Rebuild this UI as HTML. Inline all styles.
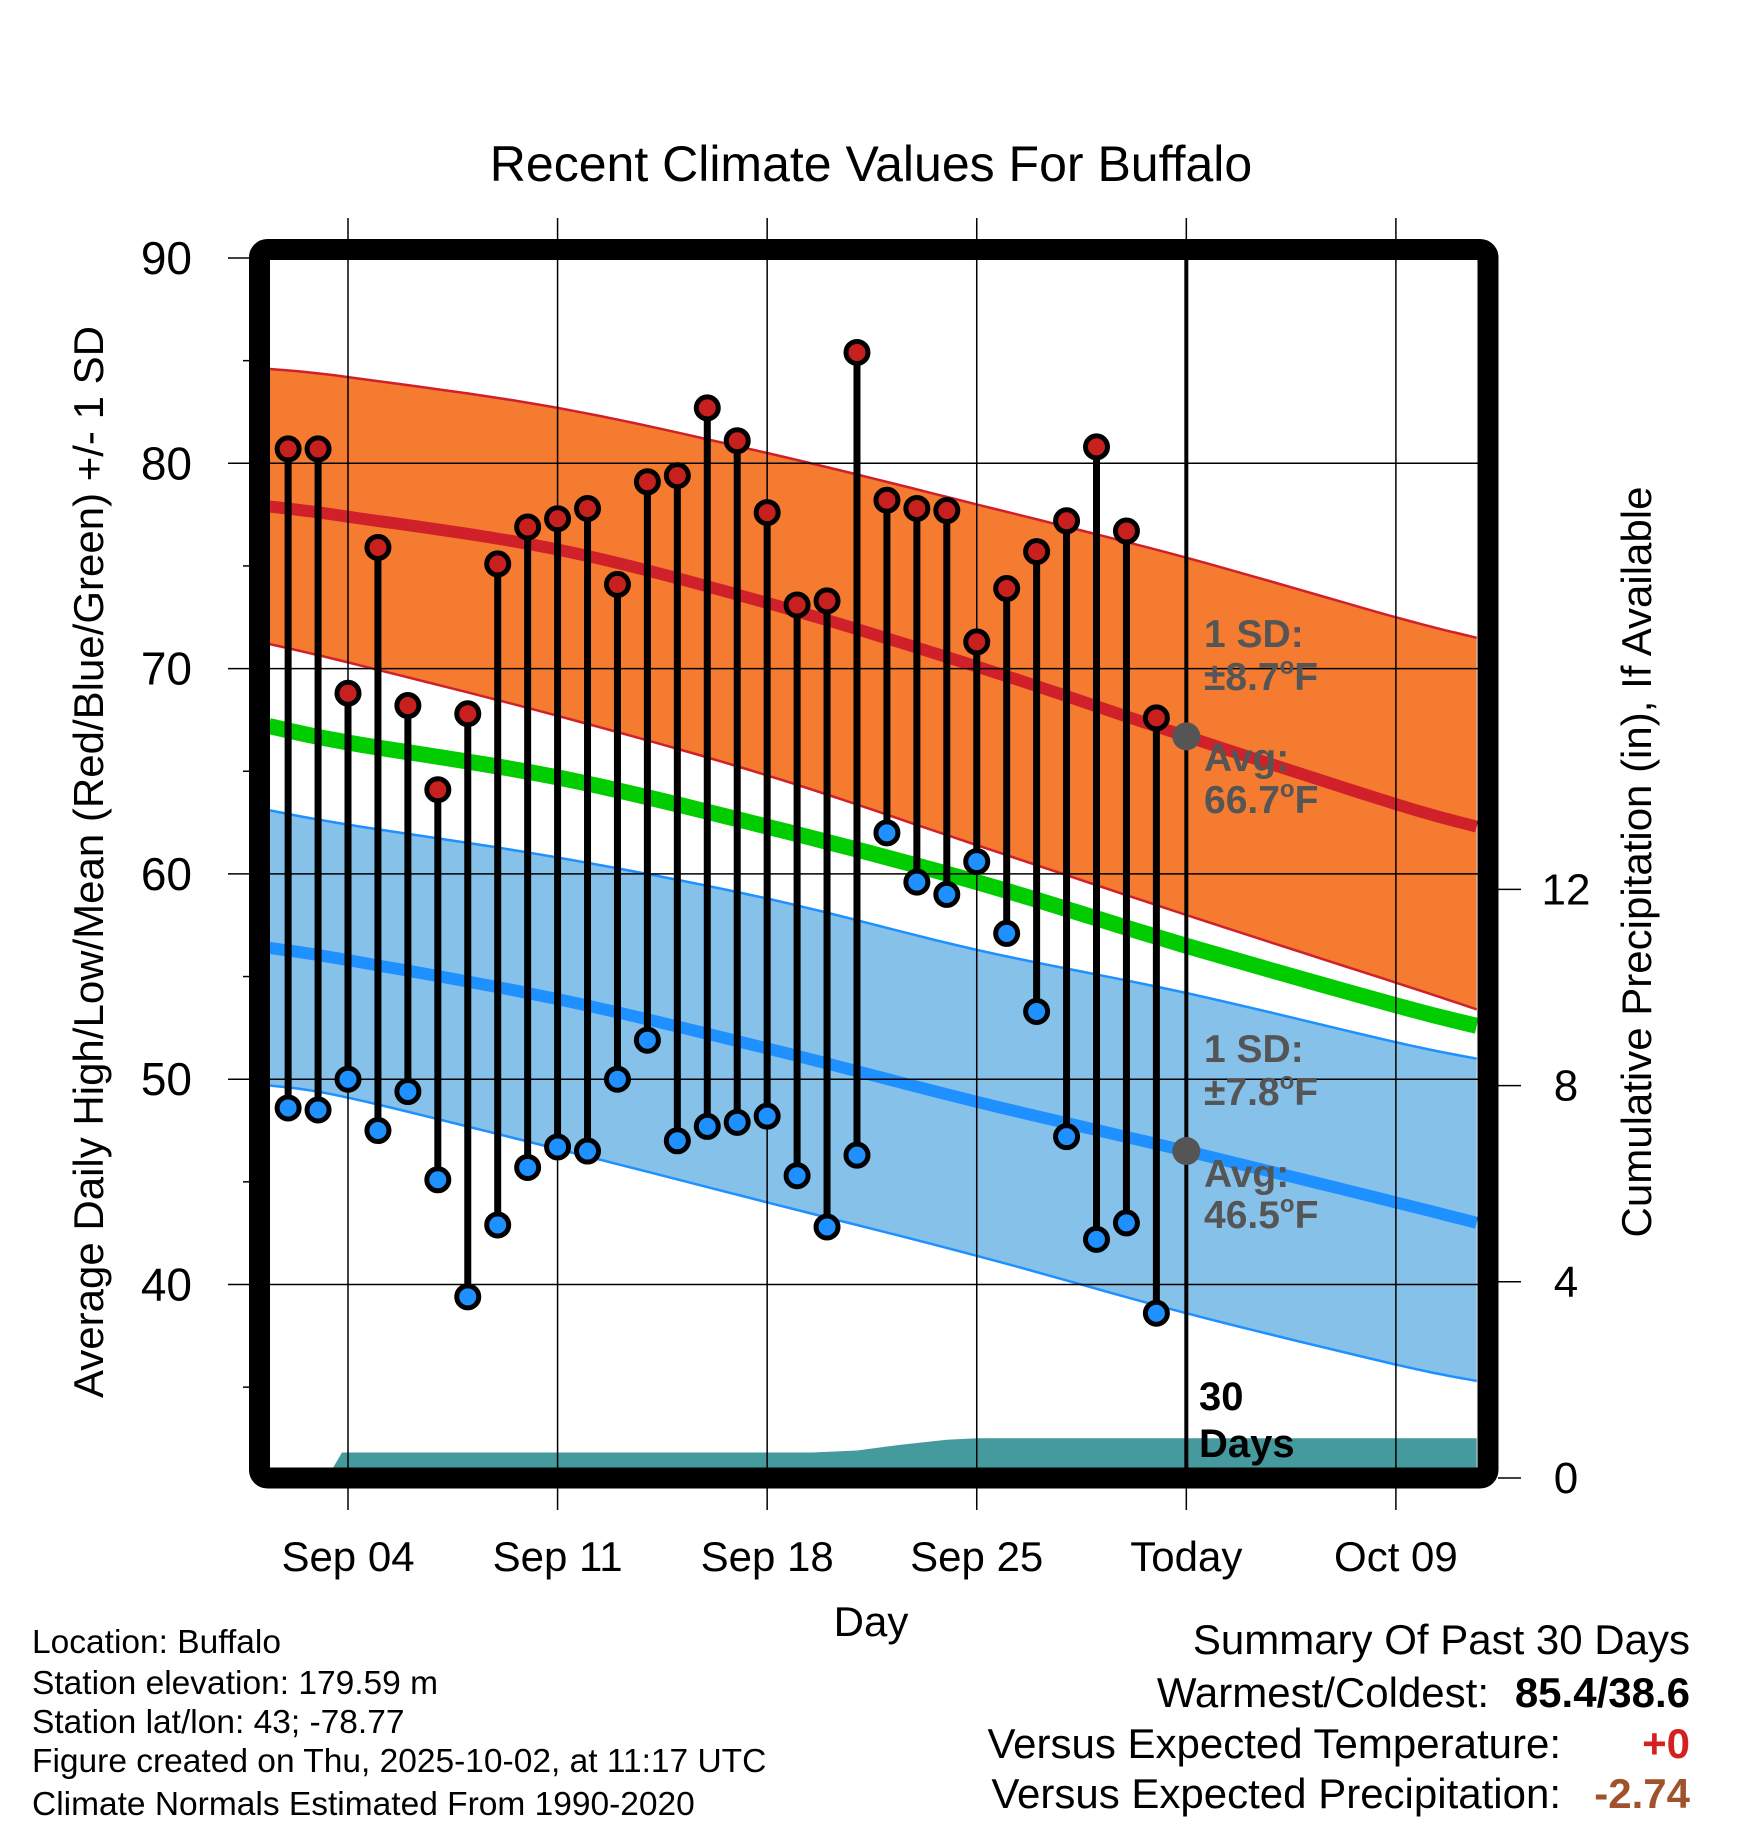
<!DOCTYPE html>
<html><head><meta charset="utf-8"><style>
html,body{margin:0;padding:0;background:#fff}
svg{display:block;font-family:"Liberation Sans",sans-serif}
</style></head><body>
<svg id="chart" width="1748" height="1828" viewBox="0 0 1748 1828">
<text x="871" y="181" font-size="50" text-anchor="middle">Recent Climate Values For Buffalo</text>
<g id="plot"></g>
</svg>
<script>
// ---- data ----
const obsDays = [2,3,4,5,6,7,8,9,10,11,12,13,14,15,16,17,18,19,20,21,22,23,24,25,26,27,28,29,30,31];
const highs = [80.7,80.7,68.8,75.9,68.2,64.1,67.8,75.1,76.9,77.3,77.8,74.1,79.1,79.4,82.7,81.1,77.6,73.1,73.3,85.4,78.2,77.8,77.7,71.3,73.9,75.7,77.2,80.8,76.7,67.6];
const lows = [48.6,48.5,50.0,47.5,49.4,45.1,39.4,42.9,45.7,46.7,46.5,50.0,51.9,47.0,47.7,47.9,48.2,45.3,42.8,46.3,62.0,59.6,59.0,60.6,57.1,53.3,47.2,42.2,43.0,38.6];
const normDays = [1.36,4,11,18,25,32,39,41.7];
const highAvg = [77.9,77.4,75.8,73.2,70.1,66.7,63.4,62.3];
const highUp = [84.6,84.2,82.7,80.5,78.0,75.4,72.5,71.5];
const highLo = [71.2,70.3,67.7,64.8,61.4,58.0,54.7,53.4];
const meanAvg = [67.2,66.4,64.7,62.3,59.6,56.5,53.6,52.6];
const lowUp = [63.1,62.4,60.8,58.8,56.3,54.2,51.8,51.0];
const lowAvg = [56.4,55.8,53.9,51.5,48.9,46.5,44.0,43.0];
const lowLo = [49.7,49.1,46.6,44.0,41.4,38.6,36.1,35.3];
const precipDays = [1.36,3.3,3.8,19.5,21,22.5,24,25,41.7];
const precipVals = [0,0,0.52,0.52,0.56,0.68,0.78,0.81,0.81];
const tempTicks = [40,50,60,70,80,90];
const precipTicks = [0,4,8,12];
const xTickDays = [4,11,18,25,32,39];
const xTickLabels = ["Sep 04","Sep 11","Sep 18","Sep 25","Today","Oct 09"];
const todayDay = 32;

// ---- axes ----
const X = d => 348 + (d - 4) * 29.94;
const Y = t => 258 + (90 - t) * 20.53;
const P = p => 1478 - p * 49.05;
const L = 270, R = 1478, T = 260, B = 1468;
const NS = "http://www.w3.org/2000/svg";
const g = document.getElementById('plot');
function el(tag, attrs, parent){const e=document.createElementNS(NS,tag);for(const k in attrs)e.setAttribute(k,attrs[k]);(parent||g).appendChild(e);return e;}
function smooth(xs, ys){
  const pts=[];
  for(let i=0;i<xs.length-1;i++){
    const x0=xs[Math.max(i-1,0)],x1=xs[i],x2=xs[i+1],x3=xs[Math.min(i+2,xs.length-1)];
    const y0=ys[Math.max(i-1,0)],y1=ys[i],y2=ys[i+1],y3=ys[Math.min(i+2,ys.length-1)];
    for(let s=0;s<10;s++){const t=s/10,t2=t*t,t3=t2*t;
      const f=(a,b,c,d)=>0.5*((2*b)+(-a+c)*t+(2*a-5*b+4*c-d)*t2+(-a+3*b-3*c+d)*t3);
      pts.push([f(x0,x1,x2,x3),f(y0,y1,y2,y3)]);}
  }
  pts.push([xs[xs.length-1],ys[ys.length-1]]);
  return pts;
}
const curve = vals => smooth(normDays.map(X), vals.map(Y));
const pstr = pts => pts.map(p=>p[0].toFixed(1)+','+p[1].toFixed(1)).join(' ');

const defs = el('defs',{});
const cp = el('clipPath',{id:'clip'},defs); el('rect',{x:L,y:T,width:R-L,height:B-T},cp);
const clipG = el('g',{'clip-path':'url(#clip)'});

function band(up, lo, fill, edge, name){
  const a=curve(up), b=curve(lo).reverse();
  const p = el('polygon',{points:pstr(a.concat(b)),fill:fill},clipG);
  
  
  const e1 = el('polyline',{points:pstr(a),fill:'none',stroke:edge,'stroke-width':2.5},clipG);
  
  
  const e2 = el('polyline',{points:pstr(curve(lo)),fill:'none',stroke:edge,'stroke-width':2.5},clipG);
  
  
}
band(lowUp, lowLo, '#85c1e9', '#1e90ff', 'low-sd-band');
band(highUp, highLo, '#f47b30', '#d0202a', 'high-sd-band');
function line(vals, color, w, name){
  const l = el('polyline',{points:pstr(curve(vals)),fill:'none',stroke:color,'stroke-width':w},clipG);
  
  
}
line(meanAvg,'#00cc00',16,'mean-normal-line');
line(highAvg,'#d0202a',12,'high-normal-line');
line(lowAvg,'#1e90ff',12,'low-normal-line');

{
  const pts = precipDays.map((d,i)=>[X(d),P(precipVals[i])]);
  const poly = pts.concat([[X(precipDays[precipDays.length-1]),P(0)+5],[X(precipDays[0]),P(0)+5]]);
  const a = el('polygon',{points:pstr(poly),fill:'#459a9e'},clipG);
  
  
}

tempTicks.forEach(t=>{
  const l = el('line',{x1:228,x2:R,y1:Y(t),y2:Y(t),stroke:'#000','stroke-width':1.5});
  
  
  const tx = el('text',{x:192,y:Y(t)+16,'font-size':46,'text-anchor':'end'});
  tx.textContent = t;
  
  
});
for(let t=35;t<90;t+=10){
  const m = el('line',{x1:243,x2:252,y1:Y(t),y2:Y(t),stroke:'#000','stroke-width':1.5});
  
  
}
xTickDays.forEach((d,i)=>{
  const l = el('line',{x1:X(d),x2:X(d),y1:218,y2:1510,stroke:'#000','stroke-width':1.5});
  
  
  const tx = el('text',{x:X(d),y:1571,'font-size':42,'text-anchor':'middle'});
  tx.textContent = xTickLabels[i];
  
  
});
precipTicks.forEach(p=>{
  const l = el('line',{x1:1498,x2:1521,y1:P(p),y2:P(p),stroke:'#000','stroke-width':1.5});
  
  
  const tx = el('text',{x:1566,y:P(p)+15,'font-size':44,'text-anchor':'middle'});
  tx.textContent = p;
  
  
});

{
  const l = el('line',{x1:X(todayDay),x2:X(todayDay),y1:T,y2:B,stroke:'#000','stroke-width':4});
  
  
}

obsDays.forEach((d,i)=>{
  const s = el('line',{x1:X(d),x2:X(d),y1:Y(highs[i]),y2:Y(lows[i]),stroke:'#000','stroke-width':7});
  
  
});
obsDays.forEach((d,i)=>{
  const h = el('circle',{cx:X(d),cy:Y(highs[i]),r:11,fill:'#c8201e',stroke:'#000','stroke-width':5});
  
  
  const lo = el('circle',{cx:X(d),cy:Y(lows[i]),r:11,fill:'#1e90ff',stroke:'#000','stroke-width':5});
  
  
});
[66.7,46.5].forEach(v=>{
  const c = el('circle',{cx:X(todayDay),cy:Y(v),r:14,fill:'#555'});
  
  
});

{
  const f = el('rect',{x:259.5,y:249.5,width:1228.5,height:1228.5,rx:8,fill:'none',stroke:'#000','stroke-width':21});
  
  
}
</script>
<svg width="1748" height="1828" style="position:absolute;left:0;top:0">
<g font-family="Liberation Sans, sans-serif" font-weight="bold" font-size="39" fill="#555">
<text x="1204" y="647">1 SD:</text>
<text x="1204" y="690">±8.7<tspan dy="-16" font-size="24">o</tspan><tspan dy="16">F</tspan></text>
<text x="1204" y="771">Avg:</text>
<text x="1204" y="813">66.7<tspan dy="-16" font-size="24">o</tspan><tspan dy="16">F</tspan></text>
<text x="1204" y="1062">1 SD:</text>
<text x="1204" y="1105">±7.8<tspan dy="-16" font-size="24">o</tspan><tspan dy="16">F</tspan></text>
<text x="1204" y="1187">Avg:</text>
<text x="1204" y="1228">46.5<tspan dy="-16" font-size="24">o</tspan><tspan dy="16">F</tspan></text>
</g>
<g font-family="Liberation Sans, sans-serif" font-weight="bold" font-size="40" fill="#000">
<text x="1199" y="1410">30</text>
<text x="1199" y="1457">Days</text>
</g>
<text x="92" y="862" transform="rotate(-90 92 862)" font-family="Liberation Sans, sans-serif" font-size="42" text-anchor="middle" dominant-baseline="middle">Average Daily High/Low/Mean (Red/Blue/Green) +/- 1 SD</text>
<text x="1640" y="862" transform="rotate(-90 1640 862)" font-family="Liberation Sans, sans-serif" font-size="42" text-anchor="middle" dominant-baseline="middle">Cumulative Precipitation (in), If Available</text>
<text x="871" y="1636" font-family="Liberation Sans, sans-serif" font-size="42" text-anchor="middle">Day</text>
<g font-family="Liberation Sans, sans-serif" font-size="33.5" fill="#000">
<text x="32" y="1653">Location: Buffalo</text>
<text x="32" y="1694">Station elevation: 179.59 m</text>
<text x="32" y="1733">Station lat/lon: 43; -78.77</text>
<text x="32" y="1772">Figure created on Thu, 2025-10-02, at 11:17 UTC</text>
<text x="32" y="1815">Climate Normals Estimated From 1990-2020</text>
</g>
<g font-family="Liberation Sans, sans-serif" font-size="42" fill="#000">
<text x="1690" y="1654" text-anchor="end">Summary Of Past 30 Days</text>
<text x="1489" y="1707" text-anchor="end">Warmest/Coldest:</text>
<text x="1690" y="1707" text-anchor="end" font-weight="bold">85.4/38.6</text>
<text x="1561" y="1758" text-anchor="end">Versus Expected Temperature:</text>
<text x="1690" y="1758" text-anchor="end" font-weight="bold" fill="#d62020">+0</text>
<text x="1561" y="1808" text-anchor="end">Versus Expected Precipitation:</text>
<text x="1690" y="1808" text-anchor="end" font-weight="bold" fill="#a0522d">-2.74</text>
</g>
</svg>
</body></html>
